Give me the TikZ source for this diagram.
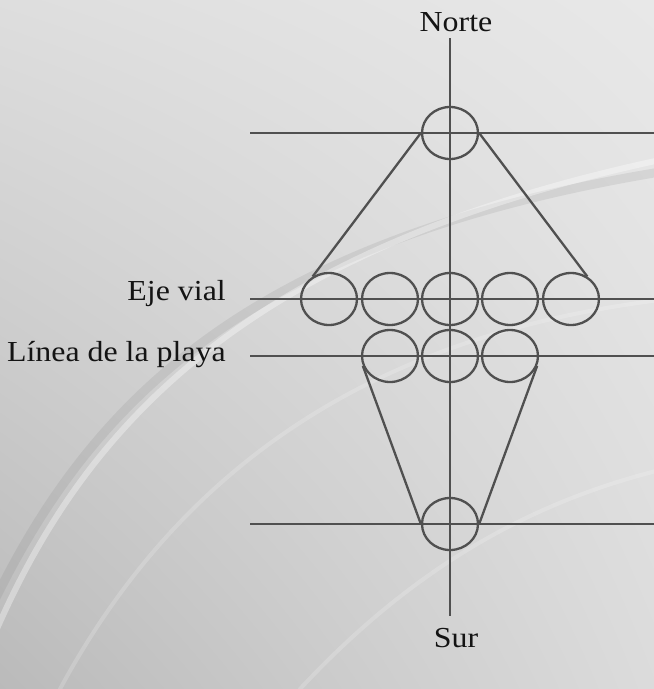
\documentclass[tikz,border=0pt]{standalone}
\usepackage{fontspec}
\setmainfont{Liberation Serif}[FakeStretch=1.1]
\usetikzlibrary{shapes.geometric,shadings}

\definecolor{lineagris}{RGB}{80,80,80}
\definecolor{textonegro}{RGB}{20,20,20}

\begin{document}
\begin{tikzpicture}[x=1pt,y=-1pt,line cap=round,line join=round,
    traza/.style={lineagris,line width=2.3pt,line cap=butt},
    rueda/.style={ellipse,draw=lineagris,line width=2.3pt,
        minimum width=56pt,minimum height=52pt,inner sep=0pt},
    rotulo/.style={text=textonegro,font=\fontsize{29}{32}\selectfont,inner sep=0pt}]
        \useasboundingbox (0,0) rectangle (654,689);

        % fondo
        \shade[upper left=black!13,upper right=black!9,
               lower left=black!27,lower right=black!14]
            (0,0) rectangle (654,689);
        \draw[black!60,opacity=0.12,line width=9pt]
            (-10,610) .. controls (90,400) and (250,240) .. (660,172);
        \draw[white,opacity=0.35,line width=6pt]
            (-10,645) .. controls (80,430) and (240,250) .. (660,160);
        \draw[white,opacity=0.18,line width=4pt]
            (60,689) .. controls (200,430) and (420,330) .. (660,300);
        \draw[white,opacity=0.18,line width=4pt]
            (300,689) .. controls (420,560) and (540,500) .. (660,470);

        % ejes
        \coordinate (arriba) at (450,38);
        \coordinate (abajo) at (450,616);
        \foreach \nombre/\y in {norte/133,vial/299,playa/356,sur/524} {
            \coordinate (\nombre0) at (250,\y);
            \coordinate (\nombre1) at (654,\y);
            \draw[traza] (\nombre0) -- (\nombre1);
        }
        \draw[traza] (arriba) -- (abajo);

        % ruedas
        \node[rueda] (n) at (450,133) {};
        \foreach \i/\x in {1/329,2/390,3/450,4/510,5/571} {
            \node[rueda] (e\i) at (\x,299) {};
        }
        \foreach \i/\x in {1/390,2/450,3/510} {
            \node[rueda] (p\i) at (\x,356) {};
        }
        \node[rueda] (s) at (450,524) {};

        \draw[traza] (n.west) -- (e1.126);
        \draw[traza] (n.east) -- (e5.54);
        \draw[traza] (p1.200) -- (s.west);
        \draw[traza] (p3.-20) -- (s.east);

        % rotulos
        \node[rotulo] (norteTxt) at (456,22) {Norte};
        \node[rotulo] (surTxt) at (456,638) {Sur};
        \node[rotulo,anchor=east] (vialTxt) at (226,294) {Eje vial};
        \node[rotulo,anchor=east] (playaTxt) at (226,355) {Línea de la playa};
    \end{tikzpicture}
\end{document}
